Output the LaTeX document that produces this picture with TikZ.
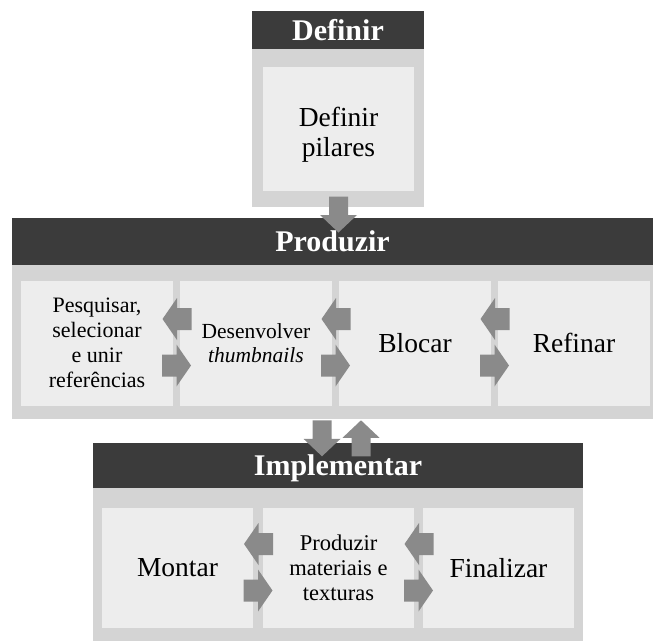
\documentclass[tikz,border=0pt]{standalone}
\usepackage{fontspec}
\setmainfont{Liberation Serif}
\usetikzlibrary{calc}
\definecolor{hdr}{HTML}{3B3B3B}
\definecolor{pnl}{HTML}{D4D4D4}
\definecolor{bx}{HTML}{EDEDED}
\definecolor{arr}{HTML}{8A8A8A}
\newcommand{\headfont}{\fontsize{30}{32}\selectfont\bfseries}
\begin{document}
\begin{tikzpicture}[x=1pt,y=-1pt,
  header/.style={fill=hdr, draw=none, text=white, font=\headfont, inner sep=0pt,
                 text height=20pt, text depth=0pt},
  box/.style={fill=bx, draw=none, align=center, inner sep=0pt},
  bigtext/.style={font=\fontsize{27.5}{30}\selectfont},
  rarrow/.pic={\fill[arr] (-14.5,-11) -- (0,-11) -- (0,-21) -- (14.5,0) -- (0,21) -- (0,11) -- (-14.5,11) -- cycle;},
  larrow/.pic={\fill[arr] (14.5,-11) -- (0,-11) -- (0,-21) -- (-14.5,0) -- (0,21) -- (0,11) -- (14.5,11) -- cycle;},
  darrow/.pic={\fill[arr] (-9.5,-18) -- (9.5,-18) -- (9.5,0.5) -- (18.5,0.5) -- (0,18) -- (-18.5,0.5) -- (-9.5,0.5) -- cycle;},
  uarrow/.pic={\fill[arr] (-9.5,18) -- (9.5,18) -- (9.5,-0.5) -- (18.5,-0.5) -- (0,-18) -- (-18.5,-0.5) -- (-9.5,-0.5) -- cycle;},
]
\useasboundingbox (0,0) rectangle (653,641);

% ---------- Definir ----------
\fill[pnl] (252,49) rectangle (424,207);
\node[header, minimum width=172pt, minimum height=38pt] (hdef) at (338,30) {Definir};
\node[box, minimum width=151pt, minimum height=124pt] (d1) at (338.5,129) {};
\node[bigtext, align=center, inner sep=0pt] (d1t) at ($(d1.center)+(0,6)$) {Definir\\pilares};

% ---------- Produzir ----------
\fill[pnl] (12,265) rectangle (653,419);
\node[header, minimum width=641pt, minimum height=47pt] (hprod) at (332.5,241.5) {Produzir};
\node[box, minimum width=152pt, minimum height=125pt, font=\fontsize{22}{25}\selectfont] (p1) at (97,343)
  {Pesquisar,\\selecionar\\e unir\\referências};
\node[box, minimum width=152pt, minimum height=125pt, font=\fontsize{21.5}{24}\selectfont] (p2) at (256,343)
  {Desenvolver\\\textit{thumbnails}};
\node[box, bigtext, minimum width=152pt, minimum height=125pt] (p3) at (415,343) {Blocar};
\node[box, bigtext, minimum width=152pt, minimum height=125pt] (p4) at (574,343) {Refinar};

% ---------- Implementar ----------
\fill[pnl] (93,488) rectangle (583,641);
\node[header, minimum width=490pt, minimum height=45pt] (himp) at (338,465.5) {Implementar};
\node[box, bigtext, minimum width=151pt, minimum height=120pt] (m1) at (177.5,568) {Montar};
\node[box, minimum width=151pt, minimum height=120pt, font=\fontsize{22.5}{25}\selectfont] (m2) at (338.5,568)
  {Produzir\\materiais e\\texturas};
\node[box, bigtext, minimum width=151pt, minimum height=120pt] (m3) at (498.5,568) {Finalizar};

% ---------- block arrows ----------
\coordinate (g12) at ($(p1.east)!0.5!(p2.west)$);
\coordinate (g23) at ($(p2.east)!0.5!(p3.west)$);
\coordinate (g34) at ($(p3.east)!0.5!(p4.west)$);
\coordinate (h12) at ($(m1.east)!0.5!(m2.west)$);
\coordinate (h23) at ($(m2.east)!0.5!(m3.west)$);
\foreach \g in {g12,g23,g34,h12,h23}{
  \pic at ($(\g)+(0.5,-24)$) {larrow};
  \pic at ($(\g)+(0,22.5)$) {rarrow};
}
\coordinate (a1) at ($(d1.south)!0.5!(hprod.north)+(3,10)$);
\pic at (a1) {darrow};
\coordinate (a2) at ($(himp.north)+(0,-4.5)$);
\pic at ($(a2)+(-16,0)$) {darrow};
\pic at ($(a2)+(23,0)$) {uarrow};
\end{tikzpicture}
\end{document}
